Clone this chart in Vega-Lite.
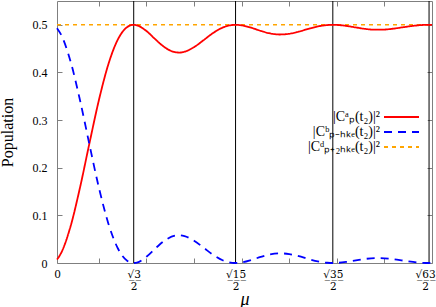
{
  "$schema": "https://vega.github.io/schema/vega-lite/v6.json",
  "width": 375,
  "height": 262,
  "autosize": {"type": "none"},
  "padding": {"left": 57, "top": 1, "right": 4, "bottom": 44},
  "config": {
    "view": {"stroke": "#7f7f7f", "strokeWidth": 1},
    "font": "Liberation Serif",
    "axis": {"labelFont": "Liberation Serif", "titleFont": "Liberation Serif", "labelColor": "black", "titleColor": "black", "tickColor": "#7f7f7f", "tickWidth": 1, "domain": false, "grid": false, "titleFontWeight": "normal"}
  },
  "datasets": {
    "verticals": [{"mu": 0.866}, {"mu": 1.936}, {"mu": 2.958}, {"mu": 3.969}],
    "flat": [
      {"mu": 0.06, "p": 0.5, "s": "|Cᵈₚ₊₂ₕₖₑ(t₂)|²"},
      {"mu": 4.0, "p": 0.5, "s": "|Cᵈₚ₊₂ₕₖₑ(t₂)|²"}
    ],
    "curves": [
      {"mu": 0.06, "p": 0.0072, "s": "|Cᵃₚ(t₂)|²"},
      {"mu": 0.1, "p": 0.0197, "s": "|Cᵃₚ(t₂)|²"},
      {"mu": 0.2, "p": 0.0752, "s": "|Cᵃₚ(t₂)|²"},
      {"mu": 0.3, "p": 0.1568, "s": "|Cᵃₚ(t₂)|²"},
      {"mu": 0.4, "p": 0.2506, "s": "|Cᵃₚ(t₂)|²"},
      {"mu": 0.5, "p": 0.3417, "s": "|Cᵃₚ(t₂)|²"},
      {"mu": 0.6, "p": 0.4174, "s": "|Cᵃₚ(t₂)|²"},
      {"mu": 0.7, "p": 0.4695, "s": "|Cᵃₚ(t₂)|²"},
      {"mu": 0.8, "p": 0.4956, "s": "|Cᵃₚ(t₂)|²"},
      {"mu": 0.866, "p": 0.5, "s": "|Cᵃₚ(t₂)|²"},
      {"mu": 0.9, "p": 0.499, "s": "|Cᵃₚ(t₂)|²"},
      {"mu": 1.0, "p": 0.4869, "s": "|Cᵃₚ(t₂)|²"},
      {"mu": 1.1, "p": 0.4683, "s": "|Cᵃₚ(t₂)|²"},
      {"mu": 1.2, "p": 0.4516, "s": "|Cᵃₚ(t₂)|²"},
      {"mu": 1.3, "p": 0.4426, "s": "|Cᵃₚ(t₂)|²"},
      {"mu": 1.35, "p": 0.4418, "s": "|Cᵃₚ(t₂)|²"},
      {"mu": 1.4, "p": 0.4435, "s": "|Cᵃₚ(t₂)|²"},
      {"mu": 1.5, "p": 0.4532, "s": "|Cᵃₚ(t₂)|²"},
      {"mu": 1.6, "p": 0.4678, "s": "|Cᵃₚ(t₂)|²"},
      {"mu": 1.7, "p": 0.4828, "s": "|Cᵃₚ(t₂)|²"},
      {"mu": 1.8, "p": 0.4942, "s": "|Cᵃₚ(t₂)|²"},
      {"mu": 1.9, "p": 0.4996, "s": "|Cᵃₚ(t₂)|²"},
      {"mu": 1.936, "p": 0.5, "s": "|Cᵃₚ(t₂)|²"},
      {"mu": 2.0, "p": 0.4989, "s": "|Cᵃₚ(t₂)|²"},
      {"mu": 2.1, "p": 0.4939, "s": "|Cᵃₚ(t₂)|²"},
      {"mu": 2.2, "p": 0.4873, "s": "|Cᵃₚ(t₂)|²"},
      {"mu": 2.3, "p": 0.4819, "s": "|Cᵃₚ(t₂)|²"},
      {"mu": 2.4, "p": 0.4797, "s": "|Cᵃₚ(t₂)|²"},
      {"mu": 2.5, "p": 0.4812, "s": "|Cᵃₚ(t₂)|²"},
      {"mu": 2.6, "p": 0.4857, "s": "|Cᵃₚ(t₂)|²"},
      {"mu": 2.7, "p": 0.4915, "s": "|Cᵃₚ(t₂)|²"},
      {"mu": 2.8, "p": 0.4966, "s": "|Cᵃₚ(t₂)|²"},
      {"mu": 2.9, "p": 0.4995, "s": "|Cᵃₚ(t₂)|²"},
      {"mu": 2.958, "p": 0.5, "s": "|Cᵃₚ(t₂)|²"},
      {"mu": 3.0, "p": 0.4998, "s": "|Cᵃₚ(t₂)|²"},
      {"mu": 3.1, "p": 0.4977, "s": "|Cᵃₚ(t₂)|²"},
      {"mu": 3.2, "p": 0.4945, "s": "|Cᵃₚ(t₂)|²"},
      {"mu": 3.3, "p": 0.4914, "s": "|Cᵃₚ(t₂)|²"},
      {"mu": 3.4, "p": 0.4898, "s": "|Cᵃₚ(t₂)|²"},
      {"mu": 3.5, "p": 0.4901, "s": "|Cᵃₚ(t₂)|²"},
      {"mu": 3.6, "p": 0.4921, "s": "|Cᵃₚ(t₂)|²"},
      {"mu": 3.7, "p": 0.495, "s": "|Cᵃₚ(t₂)|²"},
      {"mu": 3.8, "p": 0.4978, "s": "|Cᵃₚ(t₂)|²"},
      {"mu": 3.9, "p": 0.4996, "s": "|Cᵃₚ(t₂)|²"},
      {"mu": 3.969, "p": 0.5, "s": "|Cᵃₚ(t₂)|²"},
      {"mu": 4.0, "p": 0.4997, "s": "|Cᵃₚ(t₂)|²"},
      {"mu": 0.06, "p": 0.4928, "s": "|Cᵇₚ₋ₕₖₑ(t₂)|²"},
      {"mu": 0.1, "p": 0.4803, "s": "|Cᵇₚ₋ₕₖₑ(t₂)|²"},
      {"mu": 0.2, "p": 0.4248, "s": "|Cᵇₚ₋ₕₖₑ(t₂)|²"},
      {"mu": 0.3, "p": 0.3432, "s": "|Cᵇₚ₋ₕₖₑ(t₂)|²"},
      {"mu": 0.4, "p": 0.2494, "s": "|Cᵇₚ₋ₕₖₑ(t₂)|²"},
      {"mu": 0.5, "p": 0.1583, "s": "|Cᵇₚ₋ₕₖₑ(t₂)|²"},
      {"mu": 0.6, "p": 0.0826, "s": "|Cᵇₚ₋ₕₖₑ(t₂)|²"},
      {"mu": 0.7, "p": 0.0305, "s": "|Cᵇₚ₋ₕₖₑ(t₂)|²"},
      {"mu": 0.8, "p": 0.0044, "s": "|Cᵇₚ₋ₕₖₑ(t₂)|²"},
      {"mu": 0.866, "p": 0.0, "s": "|Cᵇₚ₋ₕₖₑ(t₂)|²"},
      {"mu": 0.9, "p": 0.001, "s": "|Cᵇₚ₋ₕₖₑ(t₂)|²"},
      {"mu": 1.0, "p": 0.0131, "s": "|Cᵇₚ₋ₕₖₑ(t₂)|²"},
      {"mu": 1.1, "p": 0.0317, "s": "|Cᵇₚ₋ₕₖₑ(t₂)|²"},
      {"mu": 1.2, "p": 0.0484, "s": "|Cᵇₚ₋ₕₖₑ(t₂)|²"},
      {"mu": 1.3, "p": 0.0574, "s": "|Cᵇₚ₋ₕₖₑ(t₂)|²"},
      {"mu": 1.35, "p": 0.0582, "s": "|Cᵇₚ₋ₕₖₑ(t₂)|²"},
      {"mu": 1.4, "p": 0.0565, "s": "|Cᵇₚ₋ₕₖₑ(t₂)|²"},
      {"mu": 1.5, "p": 0.0468, "s": "|Cᵇₚ₋ₕₖₑ(t₂)|²"},
      {"mu": 1.6, "p": 0.0322, "s": "|Cᵇₚ₋ₕₖₑ(t₂)|²"},
      {"mu": 1.7, "p": 0.0172, "s": "|Cᵇₚ₋ₕₖₑ(t₂)|²"},
      {"mu": 1.8, "p": 0.0058, "s": "|Cᵇₚ₋ₕₖₑ(t₂)|²"},
      {"mu": 1.9, "p": 0.0004, "s": "|Cᵇₚ₋ₕₖₑ(t₂)|²"},
      {"mu": 1.936, "p": 0.0, "s": "|Cᵇₚ₋ₕₖₑ(t₂)|²"},
      {"mu": 2.0, "p": 0.0011, "s": "|Cᵇₚ₋ₕₖₑ(t₂)|²"},
      {"mu": 2.1, "p": 0.0061, "s": "|Cᵇₚ₋ₕₖₑ(t₂)|²"},
      {"mu": 2.2, "p": 0.0127, "s": "|Cᵇₚ₋ₕₖₑ(t₂)|²"},
      {"mu": 2.3, "p": 0.0181, "s": "|Cᵇₚ₋ₕₖₑ(t₂)|²"},
      {"mu": 2.4, "p": 0.0203, "s": "|Cᵇₚ₋ₕₖₑ(t₂)|²"},
      {"mu": 2.5, "p": 0.0188, "s": "|Cᵇₚ₋ₕₖₑ(t₂)|²"},
      {"mu": 2.6, "p": 0.0143, "s": "|Cᵇₚ₋ₕₖₑ(t₂)|²"},
      {"mu": 2.7, "p": 0.0085, "s": "|Cᵇₚ₋ₕₖₑ(t₂)|²"},
      {"mu": 2.8, "p": 0.0034, "s": "|Cᵇₚ₋ₕₖₑ(t₂)|²"},
      {"mu": 2.9, "p": 0.0005, "s": "|Cᵇₚ₋ₕₖₑ(t₂)|²"},
      {"mu": 2.958, "p": 0.0, "s": "|Cᵇₚ₋ₕₖₑ(t₂)|²"},
      {"mu": 3.0, "p": 0.0002, "s": "|Cᵇₚ₋ₕₖₑ(t₂)|²"},
      {"mu": 3.1, "p": 0.0023, "s": "|Cᵇₚ₋ₕₖₑ(t₂)|²"},
      {"mu": 3.2, "p": 0.0055, "s": "|Cᵇₚ₋ₕₖₑ(t₂)|²"},
      {"mu": 3.3, "p": 0.0086, "s": "|Cᵇₚ₋ₕₖₑ(t₂)|²"},
      {"mu": 3.4, "p": 0.0102, "s": "|Cᵇₚ₋ₕₖₑ(t₂)|²"},
      {"mu": 3.5, "p": 0.0099, "s": "|Cᵇₚ₋ₕₖₑ(t₂)|²"},
      {"mu": 3.6, "p": 0.0079, "s": "|Cᵇₚ₋ₕₖₑ(t₂)|²"},
      {"mu": 3.7, "p": 0.005, "s": "|Cᵇₚ₋ₕₖₑ(t₂)|²"},
      {"mu": 3.8, "p": 0.0022, "s": "|Cᵇₚ₋ₕₖₑ(t₂)|²"},
      {"mu": 3.9, "p": 0.0004, "s": "|Cᵇₚ₋ₕₖₑ(t₂)|²"},
      {"mu": 3.969, "p": 0.0, "s": "|Cᵇₚ₋ₕₖₑ(t₂)|²"},
      {"mu": 4.0, "p": 0.0003, "s": "|Cᵇₚ₋ₕₖₑ(t₂)|²"}
    ]
  },
  "layer": [
    {
      "data": {"name": "verticals"},
      "mark": {"type": "rule", "color": "black", "strokeWidth": 1},
      "encoding": {
        "x": {"field": "mu", "type": "quantitative", "scale": {"domain": [0.06, 4.0], "nice": false, "zero": false},
          "axis": {"orient": "top", "values": [0.5, 1, 1.5, 2, 2.5, 3, 3.5], "labels": false, "ticks": true, "tickSize": -5, "title": null}}
      }
    },
    {
      "data": {"name": "flat"},
      "mark": {"type": "line", "strokeWidth": 1.6},
      "encoding": {
        "x": {"field": "mu", "type": "quantitative", "scale": {"domain": [0.06, 4.0], "nice": false, "zero": false},
          "axis": {"orient": "bottom", "values": [0.5, 1, 1.5, 2, 2.5, 3, 3.5], "labels": false, "ticks": true, "tickSize": -5, "title": null}},
        "y": {"field": "p", "type": "quantitative", "scale": {"domain": [0, 0.55], "nice": false, "zero": false},
          "axis": {"orient": "right", "values": [0, 0.1, 0.2, 0.3, 0.4, 0.5], "labels": false, "ticks": true, "tickSize": -5, "title": null}},
        "color": {"field": "s", "type": "nominal"},
        "strokeDash": {"field": "s", "type": "nominal"}
      }
    },
    {
      "data": {"name": "curves"},
      "mark": {"type": "line", "strokeWidth": 1.8, "interpolate": "monotone"},
      "encoding": {
        "x": {"field": "mu", "type": "quantitative", "scale": {"domain": [0.06, 4.0], "nice": false, "zero": false},
          "axis": {"orient": "bottom", "values": [0.06, 0.866, 1.936, 2.958, 3.969], "ticks": false, "labelFontSize": 10.5, "labelFont": "DejaVu Serif", "labelBaseline": "top", "labelPadding": 6, "labelFlush": false,
            "labelOffset": {"condition": {"test": "datum.value > 3.9", "value": -4}, "value": 0},
            "labelExpr": "datum.value < 0.5 ? '0' : datum.value < 1 ? ['√̲3̲', '2'] : datum.value < 2 ? ['√̲1̲5̲', '2'] : datum.value < 3 ? ['√̲3̲5̲', '2'] : ['√̲6̲3̲', '2']",
            "title": "μ", "titleFontSize": 18, "titleFontStyle": "italic", "titleBaseline": "middle", "titleY": 36}},
        "y": {"field": "p", "type": "quantitative", "scale": {"domain": [0, 0.55], "nice": false, "zero": false},
          "axis": {"orient": "left", "values": [0, 0.1, 0.2, 0.3, 0.4, 0.5], "ticks": true, "tickSize": -5, "labelFontSize": 12, "labelPadding": 15,
            "labelExpr": "datum.value == 0 ? '0' : format(datum.value, '.1f')",
            "title": "Population", "titleFontSize": 16, "titlePadding": 17}},
        "color": {"field": "s", "type": "nominal",
          "scale": {"domain": ["|Cᵃₚ(t₂)|²", "|Cᵇₚ₋ₕₖₑ(t₂)|²", "|Cᵈₚ₊₂ₕₖₑ(t₂)|²"], "range": ["#ff0000", "#0000ff", "#ffa500"]},
          "legend": {"orient": "none", "legendX": 332.5, "legendY": 104, "title": null, "symbolType": "M-2.5,0H2.5", "symbolSize": 196, "symbolStrokeWidth": 2, "symbolFillColor": "transparent", "labelAlign": "right", "labelOffset": -29.5, "labelFont": "Liberation Serif", "labelFontSize": 14, "rowPadding": -1.5, "fillColor": "white", "padding": 4}},
        "strokeDash": {"field": "s", "type": "nominal",
          "scale": {"domain": ["|Cᵃₚ(t₂)|²", "|Cᵇₚ₋ₕₖₑ(t₂)|²", "|Cᵈₚ₊₂ₕₖₑ(t₂)|²"], "range": [[1, 0], [8, 6], [4, 4]]},
          "legend": {"orient": "none", "legendX": 332.5, "legendY": 104, "title": null, "symbolType": "M-2.5,0H2.5", "symbolSize": 196, "symbolStrokeWidth": 2, "symbolFillColor": "transparent", "labelAlign": "right", "labelOffset": -29.5, "labelFont": "Liberation Serif", "labelFontSize": 14, "rowPadding": -1.5, "fillColor": "white", "padding": 4}}
      }
    }
  ],
  "resolve": {"scale": {"x": "independent", "y": "independent"}, "axis": {"x": "independent", "y": "independent"}}
}
